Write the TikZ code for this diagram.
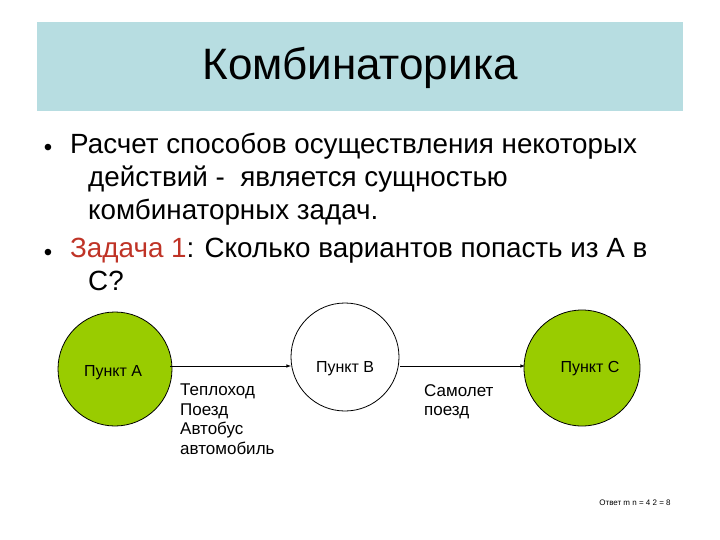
\documentclass[tikz,border=0pt]{standalone}
\usepackage{fontspec}
\setmainfont{Liberation Sans}
\begin{document}
\begin{tikzpicture}[x=1pt,y=-1pt,
  circ/.style={circle,draw=black,line width=0.8pt,minimum size=114pt,inner sep=0pt},
  lbl/.style={font=\fontsize{17}{19.5}\selectfont,align=left,anchor=north west,inner sep=0pt},
  bul/.style={font=\fontsize{27.8}{33}\selectfont,anchor=north west,inner sep=0pt,align=left},
  arr/.style={-latex,line width=0.6pt}]
\useasboundingbox (0,0) rectangle (720,540);
\fill[fill={rgb,255:red,183;green,221;blue,225}] (37,22) rectangle (683,111);
\node (title) at (360,68) {\fontsize{44}{48}\selectfont Комбинаторика};
\node[font=\fontsize{24}{26}\selectfont] (b1s) at (48,150) {•};
\node[bul] (b1) at (70,133) {Расчет способов осуществления некоторых\\\hspace*{18pt}действий -\ \ является сущностью\\\hspace*{18pt}комбинаторных задач.};
\node[font=\fontsize{24}{26}\selectfont] (b2s) at (48,255) {•};
\node[bul] (b2) at (70,238) {{\color[rgb]{0.75,0.2,0.15}Задача 1}: Сколько вариантов попасть из А в\\\hspace*{18pt}С?};
\node[circ,fill={rgb,255:red,153;green,204;blue,0}] (A) at (115,369) {};
\node[circ,fill=white,minimum size=108pt] (B) at (345,357) {};
\node[circ,fill={rgb,255:red,153;green,204;blue,0},minimum size=116pt] (C) at (582,368) {};
\node[font=\fontsize{16}{18}\selectfont] (la) at (113,373) {Пункт А};
\node[font=\fontsize{16}{18}\selectfont] (lb) at (345,369) {Пункт В};
\node[font=\fontsize{16}{18}\selectfont] (lc) at (590,369) {Пункт С};
\coordinate (a1) at (170,366); \coordinate (a2) at (291,366);
\coordinate (c1) at (400,366); \coordinate (c2) at (525,366);
\draw[arr] (a1) -- (a2);
\draw[arr] (c1) -- (c2);
\node[lbl] (t1) at (180,384) {Теплоход\\Поезд\\Автобус\\автомобиль};
\node[lbl] (t2) at (424,384) {Самолет\\поезд};
\node[font=\fontsize{8}{9}\selectfont] (ans) at (635,503) {Ответ m n = 4 2 = 8};
\end{tikzpicture}
\end{document}
